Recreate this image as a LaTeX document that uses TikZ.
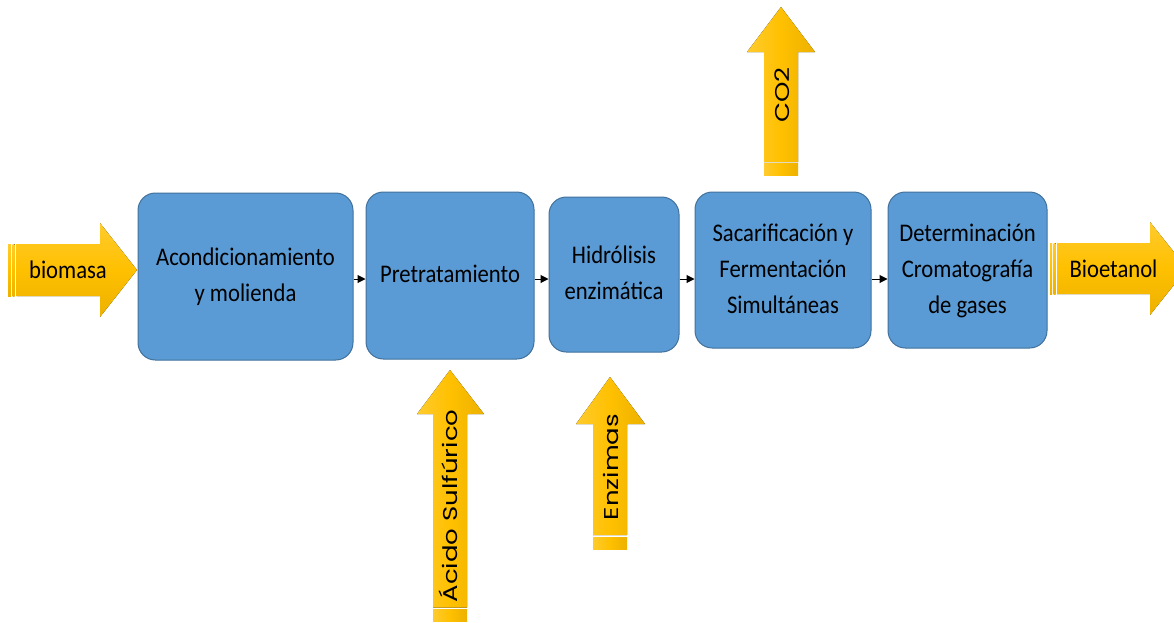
\documentclass[tikz,border=0pt]{standalone}
\usepackage{fontspec}
\setmainfont{Carlito}
\newfontfamily\geofont{Poppins}
\usetikzlibrary{arrows.meta}
\definecolor{boxblue}{HTML}{5B9BD5}
\definecolor{boxline}{HTML}{41719C}
\definecolor{goldA}{HTML}{FFCB2E}
\definecolor{goldB}{HTML}{FFC000}
\definecolor{goldC}{HTML}{EDB100}
\newcommand\boxtext[1]{\scalebox{1}[1.12]{\fontsize{17pt}{24pt}\selectfont\begin{tabular}{@{}c@{}}#1\end{tabular}}}
\newcommand\vlabel[1]{\scalebox{1.3}[1]{\geofont\fontsize{15pt}{17pt}\selectfont #1}}
\newcommand\hlabel[1]{\scalebox{1}[1.12]{\fontsize{17pt}{20pt}\selectfont #1}}
\begin{document}
\begin{tikzpicture}[x=0.75pt,y=-0.75pt,
  procbox/.style={draw=boxline, line width=0.75pt, fill=boxblue, rounded corners=13pt, inner sep=0pt, text=black},
  hgold/.style={top color=goldA, bottom color=goldC, middle color=goldB},
  vgold/.style={left color=goldA, right color=goldC, middle color=goldB},
  conn/.style={-{Triangle[length=6pt,width=6pt]}, line width=0.75pt, black},
  lab/.style={inner sep=0pt, text=black}]
\clip (0,0) rectangle (1174,622);
\fill[white] (0,0) rectangle (1174,622);

% process boxes
\node[procbox, minimum width=161.25pt, minimum height=125.25pt] (b1) at (245.5,276.5) {\boxtext{Acondicionamiento\\y molienda}};
\node[procbox, minimum width=126pt, minimum height=125.25pt] (b2) at (450,275.5) {\boxtext{Pretratamiento}};
\node[procbox, minimum width=97.5pt, minimum height=116.25pt] (b3) at (614,274.5) {\boxtext{Hidrólisis\\enzimática}};
\node[procbox, minimum width=132pt, minimum height=117pt] (b4) at (783,270) {\boxtext{Sacarificación y\\Fermentación\\Simultáneas}};
\node[procbox, minimum width=119.25pt, minimum height=117pt] (b5) at (967.5,270) {\boxtext{Determinación\\Cromatografía\\de gases}};

% connectors
\coordinate (ay) at (0,279);
\draw[conn] (b1.east |- ay) -- (b2.west |- ay);
\draw[conn] (b2.east |- ay) -- (b3.west |- ay);
\draw[conn] (b3.east |- ay) -- (b4.west |- ay);
\draw[conn] (b4.east |- ay) -- (b5.west |- ay);

% biomasa arrow
\fill[hgold] (8,244) rectangle (11,296);
\fill[hgold] (12.5,244) rectangle (14.5,296);
\fill[hgold] (16.5,244) -- (100,244) -- (100,223) -- (137,270) -- (100,317) -- (100,296) -- (16.5,296) -- cycle;
\node[lab] (lbio) at (68,270) {\hlabel{biomasa}};

% Bioetanol arrow
\fill[hgold] (1050,243) rectangle (1052,294);
\fill[hgold] (1053.5,243) rectangle (1055.5,294);
\fill[hgold] (1057,243) -- (1150,243) -- (1150,222) -- (1187,268.5) -- (1150,315) -- (1150,294) -- (1057,294) -- cycle;
\node[lab] (lbioet) at (1113.5,269) {\hlabel{Bioetanol}};

% Acido sulfurico arrow
\fill[vgold] (433,616.5) rectangle (467,621);
\fill[vgold] (433,609.5) rectangle (467,615);
\fill[vgold] (433,607.5) -- (433,414) -- (417,414) -- (450,370) -- (484,414) -- (467,414) -- (467,607.5) -- cycle;
\node[lab, rotate=90] (lacid) at (448,506) {\vlabel{Ácido Sulfúrico}};

% Enzimas arrow
\fill[vgold] (593,544.5) rectangle (627,549);
\fill[vgold] (593,537) rectangle (627,543);
\fill[vgold] (593,535) -- (593,424) -- (576,424) -- (610,377) -- (645,424) -- (627,424) -- (627,535) -- cycle;
\node[lab, rotate=90] (lenz) at (611,467) {\vlabel{Enzimas}};

% CO2 arrow
\fill[vgold] (764,170.5) rectangle (798,175);
\fill[vgold] (764,163.5) rectangle (798,169);
\fill[vgold] (764,162) -- (764,52) -- (747,52) -- (781,7) -- (815,52) -- (798,52) -- (798,162) -- cycle;
\node[lab, rotate=90] (lco2) at (782,95) {\vlabel{CO2}};
\end{tikzpicture}
\end{document}
